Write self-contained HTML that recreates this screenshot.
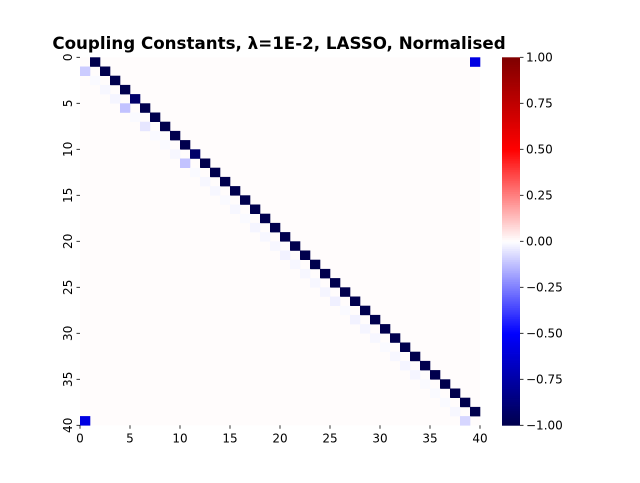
<!DOCTYPE html>
<html><head><meta charset="utf-8"><style>
body{margin:0;background:#fff;font-family:"Liberation Sans","DejaVu Sans",sans-serif;}
svg text{font-family:"DejaVu Sans","Liberation Sans",sans-serif;}
</style></head><body>
<svg id="chart" width="640" height="478" xmlns="http://www.w3.org/2000/svg">
<text x="279" y="49" text-anchor="middle" font-size="16.7" font-weight="bold">Coupling Constants, λ=1E-2, LASSO, Normalised</text>
<g id="cells"></g>
<g id="axes"></g>
<g id="cbar"></g>
</svg>
<script>
const N = 40;
const backgroundValue = 0.005;
const superDiag = [-1,-1,-1,-1,-0.92,-1,-1,-1,-1,-1,-0.92,-1,-1,-1,-1,-1,-1,-1,-1,-1,-1,-1,-1,-1,-1,-1,-1,-1,-1,-1,-1,-1,-1,-1,-1,-1,-1,-1,-1];
const subDiag = [-0.1,-0.01,-0.015,-0.02,-0.12,-0.01,-0.05,-0.01,-0.01,-0.015,-0.12,-0.01,-0.015,-0.015,-0.01,-0.015,-0.01,-0.02,-0.015,-0.015,-0.025,-0.015,-0.015,-0.015,-0.02,-0.03,-0.01,-0.025,-0.02,-0.015,-0.01,-0.015,-0.02,-0.02,-0.01,-0.01,-0.01,-0.015,-0.08];
const cornerTopRight = -0.58;
const cornerBottomLeft = -0.58;
const xTicks = [0,5,10,15,20,25,30,35,40];
const cbTicks = [-1,-0.75,-0.5,-0.25,0,0.25,0.5,0.75,1];

const NS="http://www.w3.org/2000/svg";
const X0=80,X1=480,Y0=57.3,Y1=425.3;
const sx=c=>X0+(X1-X0)*c/N, sy=r=>Y0+(Y1-Y0)*r/N;
function seismic(v){
  v=Math.max(-1,Math.min(1,v));
  let r,g,b;
  if(v<-0.5){const t=(v+1)/0.5;r=0;g=0;b=0.3+0.7*t;}
  else if(v<0){const t=(v+0.5)/0.5;r=t;g=t;b=1;}
  else if(v<0.5){const t=v/0.5;r=1;g=1-t;b=1-t;}
  else {const t=(v-0.5)/0.5;r=1-0.5*t;g=0;b=0;}
  return `rgb(${Math.round(r*255)},${Math.round(g*255)},${Math.round(b*255)})`;
}
function mk(tag,attrs,parent){const e=document.createElementNS(NS,tag);for(const k in attrs)e.setAttribute(k,attrs[k]);parent.appendChild(e);return e;}
const M=[];for(let i=0;i<N;i++){M.push(new Array(N).fill(backgroundValue));}
superDiag.forEach((v,i)=>{M[i][i+1]=v;});
subDiag.forEach((v,i)=>{M[i+1][i]=v;});
M[0][N-1]=cornerTopRight;M[N-1][0]=cornerBottomLeft;
const cells=document.getElementById('cells');
mk('rect',{x:X0,y:Y0,width:X1-X0,height:Y1-Y0,fill:seismic(backgroundValue)},cells);
for(let i=0;i<N;i++)for(let j=0;j<N;j++){
  if(M[i][j]===backgroundValue)continue;
  const r=mk('rect',{x:sx(j),y:sy(i),width:sx(j+1)-sx(j)+0.3,height:sy(i+1)-sy(i)+0.3,fill:seismic(M[i][j])},cells);
  
  
}
const axes=document.getElementById('axes');
xTicks.forEach(t=>{
  const x=sx(t);
  mk('line',{x1:x,y1:Y1,x2:x,y2:Y1+3.5,stroke:'#000','stroke-width':0.8},axes);
  const tx=mk('text',{x:x,y:Y1+17,'text-anchor':'middle','font-size':12},axes);tx.textContent=t;
  
  
  const y=sy(t);
  mk('line',{x1:X0,y1:y,x2:X0-3.5,y2:y,stroke:'#000','stroke-width':0.8},axes);
  const ty=mk('text',{x:0,y:0,'text-anchor':'middle','font-size':12,transform:`translate(${X0-8},${y}) rotate(-90)`},axes);ty.textContent=t;
  
  
});
const cb=document.getElementById('cbar');
const CX=502,CW=18;
const cy=v=>Y1-(Y1-Y0)*(v+1)/2;
const steps=200;
for(let k=0;k<steps;k++){
  const v=-1+2*(k+0.5)/steps;
  mk('rect',{x:CX,y:cy(-1+2*(k+1)/steps),width:CW,height:(Y1-Y0)/steps+0.4,fill:seismic(v)},cb);
}
cbTicks.forEach(t=>{
  const y=cy(t);
  mk('line',{x1:CX+CW,y1:y,x2:CX+CW+3.5,y2:y,stroke:'#000','stroke-width':0.8},cb);
  const tx=mk('text',{x:CX+CW+6,y:y+4.3,'font-size':12},cb);tx.textContent=t.toFixed(2).replace('-','−');
  
  
});
</script>
</body></html>
